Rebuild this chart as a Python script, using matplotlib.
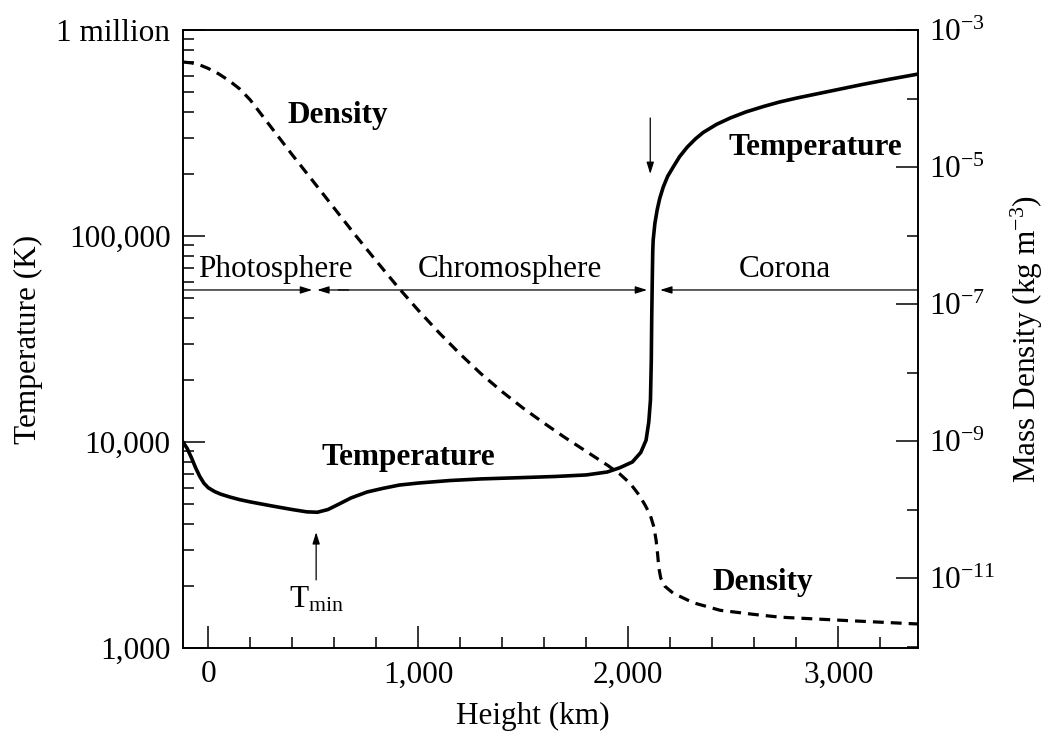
"""
Temperature and mass density through the solar atmosphere vs. height.
"""
import matplotlib
matplotlib.use("Agg")
import matplotlib.pyplot as plt
from matplotlib.ticker import FixedLocator, LogLocator, NullFormatter, MultipleLocator, LogFormatterMathtext

plt.rcParams["font.family"] = "Liberation Serif"
plt.rcParams["mathtext.fontset"] = "custom"
plt.rcParams["mathtext.rm"] = "Liberation Serif"
plt.rcParams["mathtext.it"] = "Liberation Serif:italic"
plt.rcParams["mathtext.bf"] = "Liberation Serif:bold"

# Temperature profile (height in km, temperature in K)
temp_height = [-120, -100, -80, -60, -40, -20, 0, 30, 60, 105, 150, 200, 300, 400,
               470, 520, 570, 620, 680, 757, 830, 910, 1000, 1150, 1300, 1500, 1650,
               1800, 1900, 1960, 2020, 2060, 2085, 2098, 2106, 2110, 2112, 2115, 2117,
               2119, 2127, 2138, 2150, 2167, 2188, 2214, 2245, 2281, 2320, 2357, 2420,
               2486, 2560, 2643, 2720, 2805, 2962, 3119, 3250, 3380]
temp_k = [10000, 9300, 8400, 7500, 6800, 6300, 6000, 5750, 5580, 5400, 5250, 5120, 4900,
          4700, 4580, 4560, 4700, 4980, 5350, 5720, 5950, 6180, 6320, 6500, 6620, 6720,
          6800, 6920, 7150, 7500, 8000, 8900, 10200, 12500, 16000, 25000, 40000, 65000,
          85000, 95700, 115000, 134000, 152000, 173000, 195000, 216000, 243000, 270000,
          296000, 318000, 348000, 374000, 400000, 425000, 447000, 468000, 505000,
          545000, 578000, 611000]

# Mass density profile (height in km, density in kg m^-3)
dens_height = [-120, -80, -40, 0, 50, 100, 150, 200, 300, 400, 500, 600, 700, 800, 900,
               1000, 1100, 1200, 1300, 1400, 1500, 1600, 1700, 1800, 1900, 1960, 2010,
               2050, 2080, 2105, 2122, 2133, 2140, 2146, 2155, 2175, 2214, 2310, 2438,
               2600, 2724, 3043, 3380]
dens_kg = [3.41e-4, 3.31e-4, 3.09e-4, 2.75e-4, 2.29e-4, 1.82e-4, 1.38e-4, 9.55e-5,
           3.80e-5, 1.51e-5, 6.17e-6, 2.51e-6, 1.02e-6, 4.27e-7, 1.82e-7, 8.13e-8,
           3.80e-8, 1.86e-8, 9.55e-9, 5.25e-9, 3.02e-9, 1.82e-9, 1.12e-9, 7.08e-10,
           4.47e-10, 3.31e-10, 2.40e-10, 1.66e-10, 1.17e-10, 8.32e-11, 5.62e-11,
           3.55e-11, 2.24e-11, 1.41e-11, 1.0e-11, 7.59e-12, 6.03e-12, 4.37e-12,
           3.39e-12, 2.95e-12, 2.69e-12, 2.40e-12, 2.14e-12]

# Layer boundaries along the marker line (km)
layer_names = ["Photosphere", "Chromosphere", "Corona"]
layer_label_x = [320, 1438, 2748]
layer_span = [(-120, 495), (519, 2090), (2152, 3380)]
layer_T = 54700

x_ticks = [0, 1000, 2000, 3000]
x_tick_labels = ["0", "1,000", "2,000", "3,000"]
t_ticks = [1e3, 1e4, 1e5, 1e6]
t_tick_labels = ["1,000", "10,000", "100,000", "1 million"]
rho_major = [1e-3, 1e-5, 1e-7, 1e-9, 1e-11]
rho_minor = [1e-4, 1e-6, 1e-8, 1e-10, 1e-12]

FS = 22.5

fig = plt.figure(figsize=(10.44, 7.38), dpi=100)
ax = fig.add_axes([183 / 1044, 1 - 648 / 738, 735 / 1044, 618 / 738])
ax2 = ax.twinx()

ax.set_xlim(-120, 3380)
ax.set_yscale("log")
ax.set_ylim(1e3, 1e6)
ax2.set_yscale("log")
ax2.set_ylim(10 ** -12.02, 1e-3)

ax.plot(temp_height, temp_k, color="black", lw=2.6, solid_capstyle="round",
        solid_joinstyle="round", zorder=3)
ax2.plot(dens_height, dens_kg, color="black", lw=2.3, linestyle=(0, (3.4, 2.2)), zorder=3)

# x axis
ax.xaxis.set_major_locator(FixedLocator(x_ticks))
ax.set_xticklabels(x_tick_labels)
ax.xaxis.set_minor_locator(MultipleLocator(200))

# left temperature axis
ax.yaxis.set_major_locator(FixedLocator(t_ticks))
ax.set_yticklabels(t_tick_labels)
ax.yaxis.set_minor_locator(LogLocator(base=10, subs=range(2, 10)))
ax.yaxis.set_minor_formatter(NullFormatter())

# right density axis
ax2.yaxis.set_major_locator(FixedLocator(rho_major))
ax2.yaxis.set_major_formatter(LogFormatterMathtext())
ax2.yaxis.set_minor_locator(FixedLocator(rho_minor))
ax2.yaxis.set_minor_formatter(NullFormatter())

for a in (ax, ax2):
    a.tick_params(which="major", direction="in", length=16, width=1.1, labelsize=FS)
    a.tick_params(which="minor", direction="in", length=8, width=1.1)
    for s in a.spines.values():
        s.set_linewidth(1.2)
ax.tick_params(axis="x", which="both", top=False, pad=9)
ax.tick_params(axis="y", which="both", right=False, pad=9)
ax2.tick_params(axis="y", which="both", pad=8)

ax.set_xlabel("Height (km)", fontsize=FS)
ax.xaxis.set_label_coords(0.476, -0.088)
ax.set_ylabel("Temperature (K)", fontsize=FS)
ax.yaxis.set_label_coords(-0.19, 0.5)
ax2.set_ylabel(r"Mass Density (kg m$^{-3}$)", fontsize=FS, rotation=90)
ax2.yaxis.set_label_coords(1.124, 0.5)

# layer markers
arrow_kw = dict(arrowstyle="-|>,head_length=0.7,head_width=0.22", color="black",
                lw=0.9, shrinkA=0, shrinkB=0)
(p0, p1), (c0, c1), (k0, k1) = layer_span
ax.annotate("", xy=(p1, layer_T), xytext=(p0, layer_T), arrowprops=arrow_kw)
ax.annotate("", xy=(c0, layer_T), xytext=(c0 + 150, layer_T), arrowprops=arrow_kw)
ax.annotate("", xy=(c1, layer_T), xytext=(c0 + 100, layer_T), arrowprops=arrow_kw)
ax.annotate("", xy=(k0, layer_T), xytext=(k1, layer_T), arrowprops=arrow_kw)
for name, lx in zip(layer_names, layer_label_x):
    ax.text(lx, 63200, name, fontsize=FS, ha="center", va="baseline")

# curve labels
ax.text(618, 386000, "Density", fontsize=FS, fontweight="bold", ha="center", va="center")
ax.text(2890, 270000, "Temperature", fontsize=FS, fontweight="bold", ha="center", va="center")
ax.text(952, 8450, "Temperature", fontsize=FS, fontweight="bold", ha="center", va="center")
ax.text(2643, 2090, "Density", fontsize=FS, fontweight="bold", ha="center", va="center")

# temperature minimum and transition region pointers
pointer_kw = dict(arrowstyle="-|>,head_length=0.7,head_width=0.22", color="black",
                  lw=0.9, shrinkA=0, shrinkB=0)
ax.annotate("", xy=(514, 3650), xytext=(514, 2140), arrowprops=pointer_kw)
ax.text(514, 2020, r"T$_{\mathrm{min}}$", fontsize=FS, ha="center", va="top")
ax.annotate("", xy=(2105, 200000), xytext=(2105, 374000), arrowprops=pointer_kw)

fig.savefig("out.png", dpi=100)
